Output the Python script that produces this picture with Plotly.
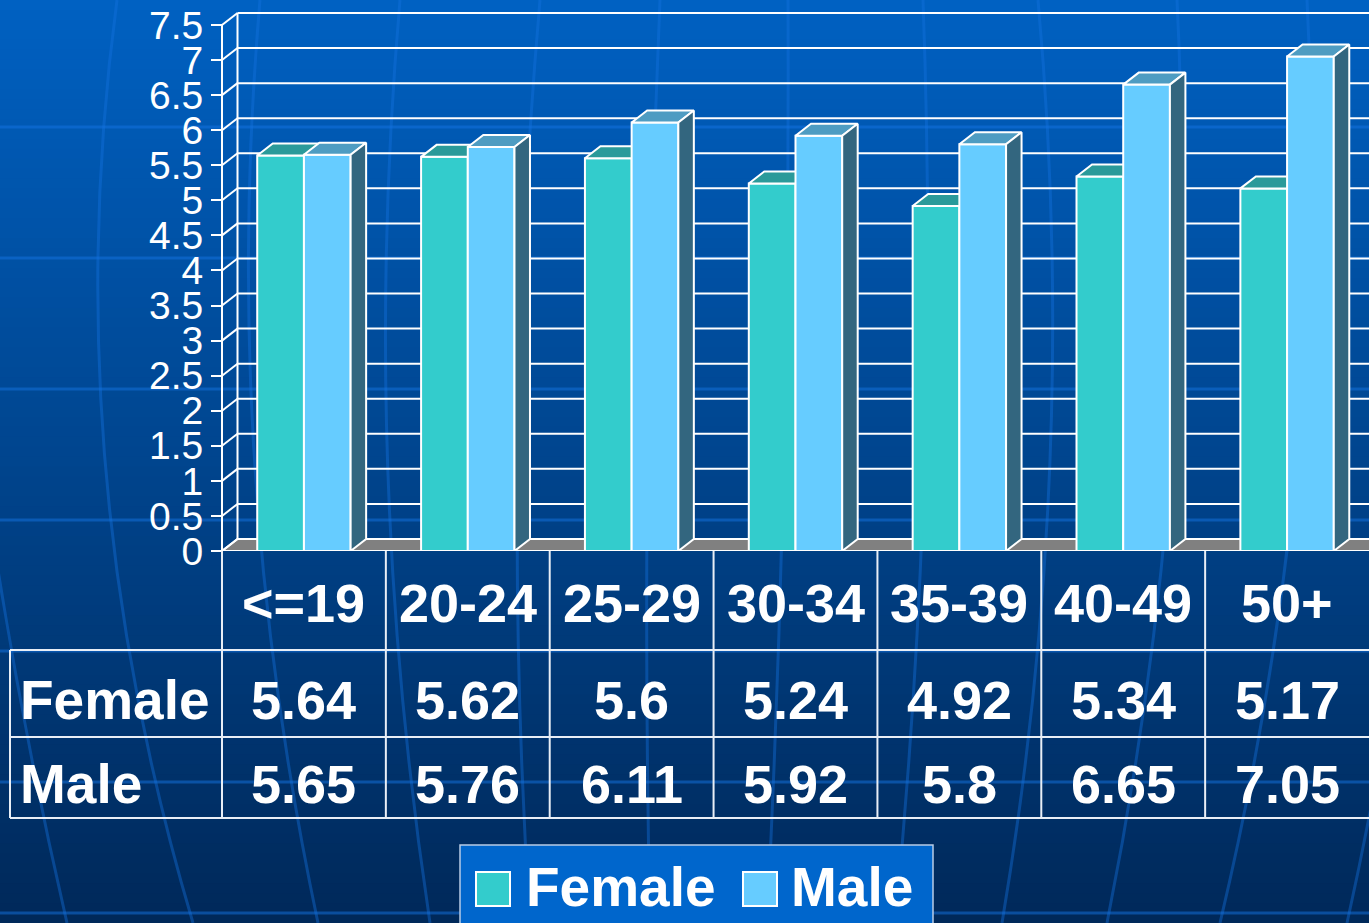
import plotly.graph_objects as go

# ---------------- data ----------------
categories = ["<=19", "20-24", "25-29", "30-34", "35-39", "40-49", "50+"]
female = [5.64, 5.62, 5.6, 5.24, 4.92, 5.34, 5.17]
male = [5.65, 5.76, 6.11, 5.92, 5.8, 6.65, 7.05]
y_tick_vals = [0, 0.5, 1, 1.5, 2, 2.5, 3, 3.5, 4, 4.5, 5, 5.5, 6, 6.5, 7, 7.5]
y_tick_text = ["0", "0.5", "1", "1.5", "2", "2.5", "3", "3.5", "4", "4.5",
               "5", "5.5", "6", "6.5", "7", "7.5"]
series_names = ["Female", "Male"]

# ---------------- layout geometry (pixels) ----------------
W, H = 1369, 923
X0 = 222.0                 # front y-axis pixel
CAT = (W - X0) / 7.0       # category width in px
Y0 = 551.0                 # pixel of value 0 (front)
KY = (551.0 - 25.0) / 7.5  # px per value unit
DX_PX, DY_PX = 15.5, 12.0  # 3D depth offset
dx = DX_PX / CAT
dy = DY_PX / KY
BW = 0.285                 # bar width in category units

FONT = "Liberation Sans, Arial, sans-serif"
C_FEM, C_FEM_TOP = "#33CCCC", "#2A9A9A"
C_MAL, C_MAL_TOP, C_MAL_SIDE = "#66CCFF", "#4E9CC2", "#33667F"


def fx(px):
    return px / W


def fy(py):
    return 1 - py / H


def polys(list_of_pts):
    xs, ys = [], []
    for pts in list_of_pts:
        for (a, b) in pts:
            xs.append(a)
            ys.append(b)
        xs.append(pts[0][0])
        ys.append(pts[0][1])
        xs.append(None)
        ys.append(None)
    return xs, ys


def segs(list_of_segs):
    xs, ys = [], []
    for (a, b), (c, d) in list_of_segs:
        xs += [a, c, None]
        ys += [b, d, None]
    return xs, ys


fig = go.Figure()
XR = 7.2  # beyond right edge (clipped)

# floor
fx_, fy_ = polys([[(-0.5, 0), (-0.5 + dx, dy), (XR, dy), (XR, 0)]])
fig.add_trace(go.Scatter(x=fx_, y=fy_, mode="lines", fill="toself",
                         fillcolor="#808080", line=dict(color="white", width=2),
                         hoverinfo="skip"))

# back wall gridlines + diagonals + back wall edge
gx, gy = segs([((-0.5 + dx, v + dy), (XR, v + dy)) for v in y_tick_vals] +
              [((-0.5, v), (-0.5 + dx, v + dy)) for v in y_tick_vals] +
              [((-0.5 + dx, dy), (-0.5 + dx, y_tick_vals[-1] + dy)),
               ((-0.5, 0), (-0.5, y_tick_vals[-1])),
               ((-0.5, 0), (XR, 0))])
fig.add_trace(go.Scatter(x=gx, y=gy, mode="lines",
                         line=dict(color="white", width=2), hoverinfo="skip"))

# bars
n = len(categories)
f_front, f_top, m_front, m_top, m_side = [], [], [], [], []
for i in range(n):
    f, m = female[i], male[i]
    a0, a1 = i - BW, i
    f_front.append([(a0, 0), (a0, f), (a1, f), (a1, 0)])
    f_top.append([(a0, f), (a0 + dx, f + dy), (a1 + dx, f + dy), (a1, f)])
    b0, b1 = i, i + BW
    m_front.append([(b0, 0), (b0, m), (b1, m), (b1, 0)])
    m_top.append([(b0, m), (b0 + dx, m + dy), (b1 + dx, m + dy), (b1, m)])
    m_side.append([(b1, 0), (b1, m), (b1 + dx, m + dy), (b1 + dx, dy)])

for pts, col in [(f_front, C_FEM), (f_top, C_FEM_TOP), (m_front, C_MAL),
                 (m_top, C_MAL_TOP), (m_side, C_MAL_SIDE)]:
    px_, py_ = polys(pts)
    fig.add_trace(go.Scatter(x=px_, y=py_, mode="lines", fill="toself",
                             fillcolor=col, line=dict(color="white", width=2),
                             hoverinfo="skip"))

shapes = []
# background gradient
top_rgb = (0x00, 0x61, 0xC2)
bot_rgb = (0x00, 0x29, 0x5A)
NB = 93
for k in range(NB):
    t = k / (NB - 1)
    r = int(top_rgb[0] + (bot_rgb[0] - top_rgb[0]) * t)
    g = int(top_rgb[1] + (bot_rgb[1] - top_rgb[1]) * t)
    b = int(top_rgb[2] + (bot_rgb[2] - top_rgb[2]) * t)
    y_top = k * H / NB
    y_bot = (k + 1) * H / NB + 1
    shapes.append(dict(type="rect", xref="paper", yref="paper", layer="below",
                       x0=0, x1=1, y0=fy(y_bot), y1=fy(y_top),
                       fillcolor=f"rgb({r},{g},{b})", line=dict(width=0)))

# faint globe lines
for py in [127, 258, 389, 520, 651, 782, 913]:
    shapes.append(dict(type="line", xref="paper", yref="paper", layer="below",
                       x0=0, x1=1, y0=fy(py), y1=fy(py),
                       line=dict(color="rgba(20,115,225,0.5)", width=3)))
meridians = [(-60, -40, 67), (117, 55, 193), (260, 220, 318), (400, 360, 430),
             (540, 500, 530), (660, 640, 650), (788, 790, 767), (923, 940, 895),
             (1038, 1080, 1002), (1177, 1200, 1107), (1307, 1330, 1220),
             (1440, 1450, 1347)]
for xt, xc, xb in meridians:
    path = f"M {fx(xt)},{fy(0)} Q {fx(xc)},{fy(460)} {fx(xb)},{fy(923)}"
    shapes.append(dict(type="path", xref="paper", yref="paper", layer="below",
                       path=path, line=dict(color="rgba(20,115,225,0.4)", width=3)))

# data table lines
TL = dict(color="#E8EEF6", width=2)
for i in range(n):
    shapes.append(dict(type="line", xref="x", yref="paper", x0=i - 0.5, x1=i - 0.5,
                       y0=fy(551), y1=fy(818), line=TL))
shapes.append(dict(type="line", xref="paper", yref="paper", x0=fx(10), x1=fx(10),
                   y0=fy(650), y1=fy(818), line=TL))
for py in [650, 737, 818]:
    shapes.append(dict(type="line", xref="paper", yref="paper", x0=fx(10), x1=1,
                       y0=fy(py), y1=fy(py), line=TL))

# legend box
shapes.append(dict(type="rect", xref="paper", yref="paper", x0=fx(460), x1=fx(933),
                   y0=fy(930), y1=fy(845), fillcolor="#0066CC",
                   line=dict(color="#B8CCE6", width=1.5)))
shapes.append(dict(type="rect", xref="paper", yref="paper", x0=fx(476), x1=fx(510),
                   y0=fy(906), y1=fy(872), fillcolor=C_FEM,
                   line=dict(color="white", width=2)))
shapes.append(dict(type="rect", xref="paper", yref="paper", x0=fx(743), x1=fx(777),
                   y0=fy(906), y1=fy(872), fillcolor=C_MAL,
                   line=dict(color="white", width=2)))

annotations = []
TF = dict(family=FONT, size=54, color="white")
for i, c in enumerate(categories):
    annotations.append(dict(x=i, y=fy(603), xref="x", yref="paper", text=f"<b>{c}</b>",
                            showarrow=False, font=TF, xanchor="center", yanchor="middle"))
    annotations.append(dict(x=i, y=fy(700), xref="x", yref="paper",
                            text=f"<b>{female[i]:g}</b>", showarrow=False, font=TF,
                            xanchor="center", yanchor="middle"))
    annotations.append(dict(x=i, y=fy(784), xref="x", yref="paper",
                            text=f"<b>{male[i]:g}</b>", showarrow=False, font=TF,
                            xanchor="center", yanchor="middle"))
LF = dict(family=FONT, size=55, color="white")
annotations.append(dict(x=fx(18), y=fy(700), xref="paper", yref="paper",
                        text=f"<b>{series_names[0]}</b>", showarrow=False, font=LF,
                        xanchor="left", yanchor="middle"))
annotations.append(dict(x=fx(18), y=fy(784), xref="paper", yref="paper",
                        text=f"<b>{series_names[1]}</b>", showarrow=False, font=LF,
                        xanchor="left", yanchor="middle"))
annotations.append(dict(x=fx(524), y=fy(887), xref="paper", yref="paper",
                        text=f"<b>{series_names[0]}</b>", showarrow=False, font=LF,
                        xanchor="left", yanchor="middle"))
annotations.append(dict(x=fx(789), y=fy(887), xref="paper", yref="paper",
                        text=f"<b>{series_names[1]}</b>", showarrow=False, font=LF,
                        xanchor="left", yanchor="middle"))

fig.update_layout(
    width=W, height=H,
    margin=dict(l=0, r=0, t=0, b=0, pad=0, autoexpand=False),
    paper_bgcolor="#00295A", plot_bgcolor="rgba(0,0,0,0)",
    showlegend=False,
    shapes=shapes, annotations=annotations,
    xaxis=dict(range=[-0.5 - X0 / CAT, 6.5], visible=False, domain=[0, 1],
               fixedrange=True, automargin=False),
    yaxis=dict(range=[0, Y0 / KY], domain=[1 - Y0 / H, 1], anchor="free",
               position=X0 / W, side="left", showgrid=False, zeroline=False,
               showline=False, ticks="outside", ticklen=11, tickwidth=2,
               tickcolor="white", tickvals=y_tick_vals, ticktext=y_tick_text,
               tickfont=dict(family=FONT, size=39, color="white"),
               ticklabelstandoff=0, fixedrange=True, automargin=False),
    font=dict(family=FONT),
)

fig.write_html("out.html")
